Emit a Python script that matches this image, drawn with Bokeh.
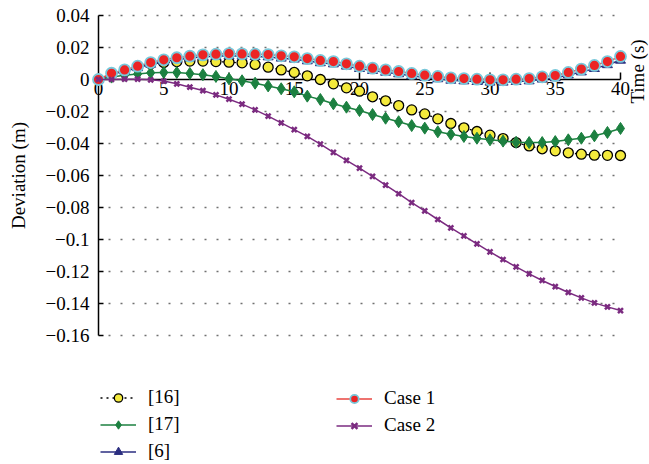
from bokeh.plotting import figure
from bokeh.models import Range1d, Legend, LegendItem
from bokeh.core.properties import value
from bokeh.embed import file_html
from bokeh.resources import INLINE
import math

t = list(range(0, 41))

ref16 = [0.0, 0.0035, 0.006, 0.008, 0.0098, 0.0106, 0.0112, 0.0115, 0.0115, 0.0112,
         0.0108, 0.0104, 0.0094, 0.0077, 0.006, 0.0044, 0.0023, 0.0, -0.0027, -0.0052,
         -0.0073, -0.0108, -0.0133, -0.0163, -0.019, -0.0215, -0.0246, -0.0275, -0.0302, -0.0325,
         -0.0348, -0.0369, -0.0394, -0.0415, -0.0433, -0.0446, -0.0458, -0.0467, -0.0473, -0.0474,
         -0.0475]
ref17 = [0.0, 0.0015, 0.0027, 0.0035, 0.0042, 0.0044, 0.0044, 0.0038, 0.003, 0.0019,
         0.0004, -0.0008, -0.0023, -0.004, -0.0058, -0.0077, -0.0104, -0.0125, -0.0152, -0.0173,
         -0.0194, -0.0219, -0.0242, -0.0264, -0.0288, -0.0304, -0.0327, -0.0342, -0.0356, -0.0367,
         -0.0377, -0.0385, -0.0392, -0.0394, -0.0394, -0.0388, -0.0377, -0.0367, -0.0352, -0.0331,
         -0.0306]
ref6 = [0.0, 0.0033, 0.0052, 0.0073, 0.0095, 0.0112, 0.0124, 0.0134, 0.0142, 0.0145,
        0.0148, 0.0146, 0.0143, 0.0141, 0.0133, 0.0127, 0.0116, 0.0104, 0.0097, 0.0083,
        0.0068, 0.0056, 0.0045, 0.0035, 0.0023, 0.0012, 0.0004, -0.0005, -0.0009, -0.0013,
        -0.0017, -0.0017, -0.0013, -0.0009, 0.0002, 0.001, 0.0028, 0.0047, 0.0068, 0.0092,
        0.012]
case1 = [0.0, 0.0039, 0.006, 0.0083, 0.0106, 0.0123, 0.0136, 0.0146, 0.0154, 0.0158,
         0.0162, 0.016, 0.0158, 0.0156, 0.0148, 0.0142, 0.0131, 0.0119, 0.0112, 0.0098,
         0.0083, 0.0071, 0.006, 0.005, 0.0038, 0.0027, 0.0019, 0.001, 0.0006, 0.0002,
         -0.0002, -0.0002, 0.0002, 0.0006, 0.0017, 0.0025, 0.0044, 0.0065, 0.0088, 0.0112,
         0.0144]
case2 = [0.0, 0.0, 0.0002, 0.0002, -0.0002, -0.001, -0.0027, -0.0048, -0.0069, -0.0096,
         -0.0123, -0.0154, -0.019, -0.0229, -0.0271, -0.0313, -0.0356, -0.0404, -0.0456, -0.0506,
         -0.0554, -0.0606, -0.066, -0.0714, -0.0769, -0.0821, -0.0875, -0.0927, -0.0977, -0.1027,
         -0.1077, -0.1125, -0.1171, -0.1215, -0.1256, -0.1294, -0.1331, -0.1365, -0.1396, -0.1421,
         -0.1444]

y_ticks = [0.04, 0.02, 0.0, -0.02, -0.04, -0.06, -0.08, -0.1, -0.12, -0.14, -0.16]
y_tick_labels = ["0.04", "0.02", "0", "\u22120.02", "\u22120.04", "\u22120.06", "\u22120.08",
                 "\u22120.1", "\u22120.12", "\u22120.14", "\u22120.16"]
x_ticks = [0, 5, 10, 15, 20, 25, 30, 35, 40]
x_tick_labels = ["0", "5", "10", "15", "20", "25", "30", "35", "40"]
y_title = "Deviation (m)"
x_title = "Time (s)"

FONT = "Liberation Serif"
FS = "19px"
W, H = 649, 464
XS, YS = 13.05, 1600.0   # pixels per data unit
X0PX, Y0PX = 98, 15      # pixel position of x = 0 and of y = 0.04

p = figure(width=W, height=H, output_backend="svg", toolbar_location=None,
           x_axis_location=None, y_axis_location=None,
           min_border_left=0, min_border_right=0, min_border_top=0, min_border_bottom=0)
x_start = x_ticks[0] - X0PX / XS
y_end = y_ticks[0] + Y0PX / YS
p.x_range = Range1d(x_start, x_start + W / XS)
p.y_range = Range1d(y_end - H / YS, y_end)
p.outline_line_color = None
p.xgrid.visible = False
p.ygrid.visible = False

# dotted horizontal grid
grid_y = [v for v in y_ticks if v != 0.0]
p.segment(x0=[x_ticks[0]] * len(grid_y), x1=[x_ticks[-1]] * len(grid_y), y0=grid_y, y1=grid_y,
          line_color="#707070", line_width=1.5, line_dash=value("2 10"), line_dash_offset=2)

# y axis (line, inward ticks, labels, title)
p.segment(x0=[x_ticks[0]], x1=[x_ticks[0]], y0=[y_ticks[-1]], y1=[y_ticks[0]],
          line_color="black", line_width=1.5)
p.segment(x0=[x_ticks[0]] * len(y_ticks), x1=[x_ticks[0] + 5 / XS] * len(y_ticks),
          y0=y_ticks, y1=y_ticks, line_color="black", line_width=1.5)
p.text(x=[x_ticks[0]] * len(y_ticks), y=y_ticks, text=y_tick_labels, text_align="right",
       text_baseline="middle", x_offset=-9, text_font=value(FONT), text_font_size=value(FS),
       text_color="black")
p.text(x=[x_ticks[0]], y=[(y_ticks[0] + y_ticks[-1]) / 2], text=[y_title], angle=math.pi / 2,
       text_align="center", text_baseline="middle", x_offset=-80, text_font=value(FONT),
       text_font_size=value(FS), text_color="black")

# x axis at y = 0
p.segment(x0=[x_ticks[0]], x1=[x_ticks[-1]], y0=[0], y1=[0], line_color="black", line_width=1.5)
p.segment(x0=x_ticks[1:], x1=x_ticks[1:], y0=[0] * 8, y1=[7 / YS] * 8,
          line_color="black", line_width=1.5)
p.text(x=x_ticks, y=[0] * len(x_ticks), text=x_tick_labels, text_align="center",
       text_baseline="top", y_offset=2, text_font=value(FONT), text_font_size=value(FS),
       text_color="black")
p.text(x=[x_ticks[-1]], y=[0], text=[x_title], angle=math.pi / 2, text_align="center",
       text_baseline="middle", x_offset=17, y_offset=-8, text_font=value(FONT),
       text_font_size=value(FS), text_color="black")

# series
l16 = p.line(t, ref16, line_color="black", line_width=1.3, line_dash="2 4")
s16 = p.scatter(t, ref16, marker="circle", size=10, fill_color="#f4ea3c", line_color="black",
                line_width=1.3)
l17 = p.line(t, ref17, line_color="#1c8040", line_width=1.5)
s17 = p.scatter(t, ref17, marker="diamond", size=12, fill_color="#1c8040", line_color="#1c8040")
l6 = p.line(t, ref6, line_color="#2b2e80", line_width=1.5)
s6 = p.scatter(t, ref6, marker="triangle", size=10, fill_color="#2b2e80", line_color="#2b2e80")
lc1 = p.line(t, case1, line_color="#e8453f", line_width=1.5)
sc1 = p.scatter(t, case1, marker="circle", size=11, fill_color="#ec2424", line_color="#79c8da",
                line_width=1.8)
lc2 = p.line(t, case2, line_color="#7b2b80", line_width=1.5)
sc2 = p.scatter(t, case2, marker="x", size=7, line_color="#7b2b80", line_width=2.5)

common = dict(border_line_color=None, background_fill_alpha=0, padding=0, margin=0,
              spacing=5, glyph_width=36, glyph_height=21, label_height=21,
              label_standoff=12, label_text_font=FONT, label_text_font_size=FS,
              label_text_color="black")
leg1 = Legend(items=[LegendItem(label="[16]", renderers=[l16, s16]),
                     LegendItem(label="[17]", renderers=[l17, s17]),
                     LegendItem(label="[6]", renderers=[l6, s6])],
              location=(100, 2), **common)
leg2 = Legend(items=[LegendItem(label="Case 1", renderers=[lc1, sc1]),
                     LegendItem(label="Case 2", renderers=[lc2, sc2])],
              location=(336, 28), **common)
p.add_layout(leg1)
p.add_layout(leg2)

open("out.html", "w").write(file_html(p, INLINE))
